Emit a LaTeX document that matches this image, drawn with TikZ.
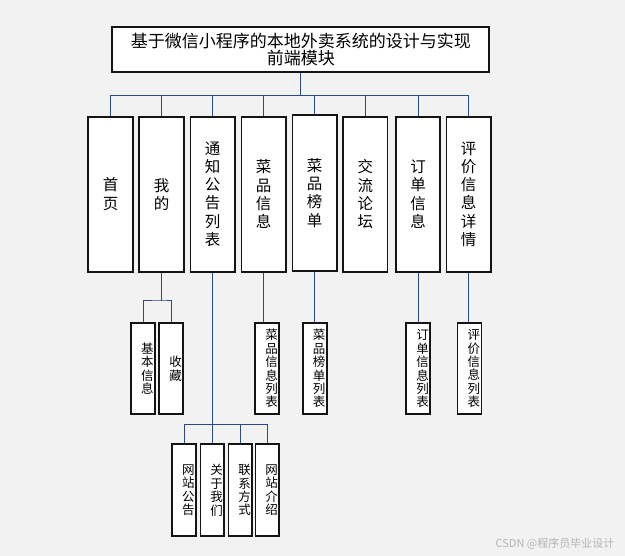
\documentclass[tikz,border=0pt]{standalone}
\usepackage{fontspec}
\newfontfamily\cjk{Noto Sans CJK SC}
\definecolor{bg}{HTML}{F2F2F2}
\definecolor{ln}{HTML}{2C4A86}
\definecolor{bd}{HTML}{141414}
\definecolor{wm}{HTML}{B4B4B4}
\begin{document}
\begin{tikzpicture}[x=1pt,y=-1pt,
 box/.style={draw=bd, line width=1.7pt, fill=white, inner sep=0pt},
 titlebox/.style={box, minimum width=377pt, minimum height=45.6pt, align=center, font=\cjk\fontsize{17}{17.8}\selectfont},
 topbox/.style={box, minimum width=44.4pt, minimum height=155pt, align=center, font=\cjk\fontsize{15.5}{18.3}\selectfont},
 subbox/.style={box, minimum width=24pt, minimum height=91pt},
 stxt/.style={xshift=4.4pt, align=center, font=\cjk\fontsize{12.5}{13.4}\selectfont, inner sep=0pt},
 conn/.style={draw=ln, line width=1pt}]
\fill[bg] (0,0) rectangle (625,556);
\useasboundingbox (0,0) rectangle (625,556);

% title
\node[titlebox] (title) at (300.8,49.5) {基于微信小程序的本地外卖系统的设计与实现\\前端模块};

% top level
\node[topbox] (b1) at (110.5,194.2) {首\\页};
\node[topbox] (b2) at (161.5,194.2) {我\\的};
\node[topbox] (b3) at (212.7,194.2) {通\\知\\公\\告\\列\\表};
\node[topbox] (b4) at (263.7,194.2) {菜\\品\\信\\息};
\node[topbox, minimum height=155.7pt] (b5) at (314.7,192.9) {菜\\品\\榜\\单};
\node[topbox] (b6) at (365.3,194.2) {交\\流\\论\\坛};
\node[topbox] (b7) at (418,194.2) {订\\单\\信\\息};
\node[topbox] (b8) at (468.7,194.2) {评\\价\\信\\息\\详\\情};

% second level
\node[subbox, label={[stxt]center:{基\\本\\信\\息}}] (s1) at (143,368.7) {};
\node[subbox, label={[stxt]center:{收\\藏}}] (s2) at (171.3,368.7) {};
\node[subbox, label={[stxt]center:{菜\\品\\信\\息\\列\\表}}] (s4) at (267.2,368.7) {};
\node[subbox, label={[stxt]center:{菜\\品\\榜\\单\\列\\表}}] (s5) at (314.7,368.7) {};
\node[subbox, label={[stxt]center:{订\\单\\信\\息\\列\\表}}] (s7) at (418.3,368.7) {};
\node[subbox, label={[stxt]center:{评\\价\\信\\息\\列\\表}}] (s8) at (469.5,368.7) {};

% third level
\node[subbox, minimum width=23.5pt, minimum height=91.7pt, label={[stxt]center:{网\\站\\公\\告}}] (t1) at (184,490.2) {};
\node[subbox, minimum width=23.5pt, minimum height=91.7pt, label={[stxt]center:{关\\于\\我\\们}}] (t2) at (212.2,490.2) {};
\node[subbox, minimum width=23.5pt, minimum height=91.7pt, label={[stxt]center:{联\\系\\方\\式}}] (t3) at (240.3,490.2) {};
\node[subbox, minimum width=23.5pt, minimum height=91.7pt, label={[stxt]center:{网\\站\\介\\绍}}] (t4) at (267.3,490.2) {};

% connectors level 1
\coordinate (bar) at (300.8,95.3);
\draw[conn] (title.south) -- (bar);
\draw[conn] (b1.north |- bar) -- (b8.north |- bar);
\foreach \b in {b1,b2,b3,b4,b5,b6,b7,b8}
  \draw[conn] (\b.north |- bar) -- (\b.north);

% connectors level 2
\coordinate (j2) at (161.5,301);
\draw[conn] (b2.south) -- (j2);
\draw[conn] (s1.north) |- (j2) -| (s2.north);
\draw[conn] (b4.south) -- (b4.south |- s4.north);
\draw[conn] (b5.south) -- (s5.north);
\draw[conn] (b7.south) -- (b7.south |- s7.north);
\draw[conn] (b8.south) -- (b8.south |- s8.north);

% connectors level 3
\coordinate (j3) at (212.7,424.3);
\draw[conn] (b3.south) -- (j3);
\draw[conn] (t1.north) |- (j3) -| (t4.north);
\draw[conn] (t2.north) -- (t2.north |- j3);
\draw[conn] (t3.north) -- (t3.north |- j3);

% watermark
\node[text=wm, font=\cjk\fontsize{11}{12}\selectfont, inner sep=0pt] (wmk) at (555,544) {CSDN @程序员毕业设计};
\end{tikzpicture}
\end{document}
